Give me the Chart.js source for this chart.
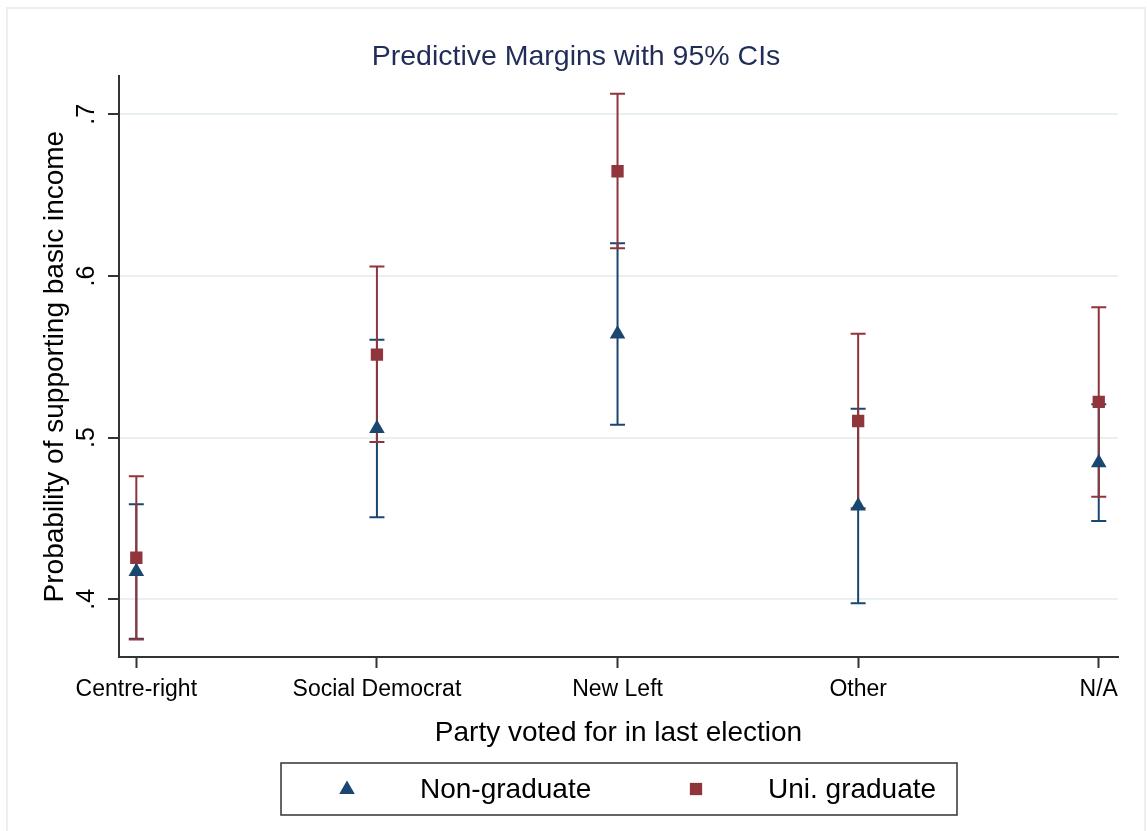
<!DOCTYPE html>
<html>
<head>
<meta charset="utf-8">
<script src="https://cdn.jsdelivr.net/npm/chart.js@4/dist/chart.umd.min.js"></script>
<style>
  html, body { margin: 0; padding: 0; background: #ffffff; }
  #wrap { width: 1147px; height: 831px; position: relative; }
</style>
</head>
<body>
<div id="wrap"><canvas id="c" width="1147" height="831"></canvas></div>
<script>
// Party categories along the x axis
const parties = ['Centre-right', 'Social Democrat', 'New Left', 'Other', 'N/A'];

// Y axis ticks and their labels
const yTicks = [0.4, 0.5, 0.6, 0.7];
const yTickLabels = ['.4', '.5', '.6', '.7'];

// Non-graduate: predictive margin and 95% CI bounds
const nonGradMargin = [0.4172, 0.5057, 0.5641, 0.4577, 0.4845];
const nonGradLow    = [0.3756, 0.4507, 0.5079, 0.3975, 0.4484];
const nonGradHigh   = [0.4588, 0.5606, 0.6203, 0.5178, 0.5206];

// University graduate: predictive margin and 95% CI bounds
const gradMargin = [0.4257, 0.5514, 0.6648, 0.5103, 0.5221];
const gradLow    = [0.3752, 0.4973, 0.6172, 0.4563, 0.4635];
const gradHigh   = [0.4761, 0.6058, 0.7127, 0.5642, 0.5807];

const NAVY = '#1a476f';
const MAROON = '#90353b';
const AXIS = '#333333';
const GRID = '#e8f0f2';

Chart.defaults.font.family = "'Liberation Sans', Arial, Helvetica, sans-serif";
Chart.defaults.font.weight = 'normal';
Chart.defaults.color = '#000000';

// Light outer frame of the graph region
const regionFrame = {
  id: 'regionFrame',
  beforeDraw(chart) {
    const ctx = chart.ctx;
    ctx.save();
    ctx.fillStyle = '#ffffff';
    ctx.fillRect(0, 0, chart.width, chart.height);
    ctx.strokeStyle = GRID;
    ctx.lineWidth = 2;
    ctx.strokeRect(7, 8, 1138, 840);
    ctx.restore();
  }
};

// Capped confidence-interval spikes, drawn beneath the markers
const ciCaps = {
  id: 'ciCaps',
  beforeDatasetsDraw(chart, args, opts) {
    const ctx = chart.ctx;
    const xs = chart.scales.x, ys = chart.scales.y;
    const half = opts.capHalfWidth;
    ctx.save();
    ctx.lineWidth = opts.lineWidth;
    ctx.lineCap = 'butt';
    chart.data.datasets.forEach(ds => {
      ctx.strokeStyle = ds.borderColor;
      ds.ciLow.forEach((lo, i) => {
        const hi = ds.ciHigh[i];
        const x = xs.getPixelForValue(i);
        const yLo = ys.getPixelForValue(lo);
        const yHi = ys.getPixelForValue(hi);
        ctx.beginPath();
        ctx.moveTo(x, yLo); ctx.lineTo(x, yHi);
        ctx.moveTo(x - half, yLo); ctx.lineTo(x + half, yLo);
        ctx.moveTo(x - half, yHi); ctx.lineTo(x + half, yHi);
        ctx.stroke();
      });
    });
    ctx.restore();
  }
};

function drawMarker(ctx, style, x, y, r) {
  ctx.beginPath();
  if (style === 'triangle') {
    ctx.moveTo(x, y - r);
    ctx.lineTo(x + Math.sin(2 * Math.PI / 3) * r, y + 0.5 * r);
    ctx.lineTo(x - Math.sin(2 * Math.PI / 3) * r, y + 0.5 * r);
    ctx.closePath();
  } else {
    const s = Math.SQRT1_2 * r;
    ctx.rect(x - s, y - s, 2 * s, 2 * s);
  }
  ctx.fill();
}

// Boxed legend below the axis title
const boxLegend = {
  id: 'boxLegend',
  afterDraw(chart, args, opts) {
    const ctx = chart.ctx;
    const b = opts.box;
    ctx.save();
    ctx.strokeStyle = AXIS;
    ctx.lineWidth = 1.5;
    ctx.strokeRect(b.x, b.y, b.w, b.h);
    ctx.font = opts.fontSize + "px 'Liberation Sans', Arial, sans-serif";
    ctx.textBaseline = 'alphabetic';
    ctx.textAlign = 'left';
    chart.data.datasets.forEach((ds, i) => {
      const it = opts.items[i];
      ctx.fillStyle = ds.backgroundColor;
      drawMarker(ctx, ds.pointStyle, it.symbolX, it.symbolY, ds.pointRadius);
      ctx.fillStyle = '#000000';
      ctx.fillText(ds.label, it.textX, opts.baseline);
    });
    ctx.restore();
  }
};

const toPoints = arr => arr.map((v, i) => ({ x: i, y: v }));

new Chart(document.getElementById('c'), {
  type: 'scatter',
  data: {
    datasets: [
      {
        label: 'Non-graduate',
        data: toPoints(nonGradMargin),
        ciLow: nonGradLow,
        ciHigh: nonGradHigh,
        pointStyle: 'triangle',
        pointRadius: 9,
        backgroundColor: NAVY,
        borderColor: NAVY,
        pointBorderWidth: 0,
        order: 1
      },
      {
        label: 'Uni. graduate',
        data: toPoints(gradMargin),
        ciLow: gradLow,
        ciHigh: gradHigh,
        pointStyle: 'rect',
        pointRadius: 8.7,
        backgroundColor: MAROON,
        borderColor: MAROON,
        pointBorderWidth: 0,
        order: 0
      }
    ]
  },
  options: {
    responsive: false,
    animation: false,
    events: [],
    layout: { padding: { top: 40, right: 29, bottom: 0, left: 34 } },
    plugins: {
      legend: { display: false },
      tooltip: { enabled: false },
      title: {
        display: true,
        text: 'Predictive Margins with 95% CIs',
        color: '#1f2d57',
        font: { size: 28.5, weight: 'normal' },
        padding: { top: 0, bottom: 2 }
      },
      ciCaps: { lineWidth: 2, capHalfWidth: 7.5 },
      boxLegend: {
        box: { x: 281, y: 763, w: 676, h: 52 },
        fontSize: 28,
        baseline: 798,
        items: [
          { symbolX: 347, symbolY: 789.5, textX: 420 },
          { symbolX: 696, symbolY: 789, textX: 768 }
        ]
      }
    },
    scales: {
      x: {
        type: 'linear',
        min: -0.072,
        max: 4.08,
        afterBuildTicks: s => { s.ticks = parties.map((_, i) => ({ value: i })); },
        afterFit: s => { s.height = 174; },
        ticks: {
          callback: v => parties[v],
          font: { size: 23 },
          color: '#000000',
          padding: 8,
          autoSkip: false,
          maxRotation: 0,
          minRotation: 0
        },
        grid: {
          drawOnChartArea: false,
          drawTicks: true,
          tickLength: 11,
          tickColor: AXIS,
          tickWidth: 2
        },
        border: { display: true, color: AXIS, width: 2 },
        title: {
          display: true,
          text: 'Party voted for in last election',
          font: { size: 28 },
          color: '#000000',
          padding: { top: 0, bottom: 81 }
        }
      },
      y: {
        type: 'linear',
        min: 0.3643,
        max: 0.7236,
        afterBuildTicks: s => { s.ticks = yTicks.map(v => ({ value: v })); },
        afterFit: s => { s.width = 85; },
        ticks: {
          callback: (v, i) => yTickLabels[i],
          minRotation: 90,
          maxRotation: 90,
          crossAlign: 'center',
          padding: 10,
          font: { size: 25 },
          color: '#000000'
        },
        grid: {
          color: GRID,
          lineWidth: 2,
          tickLength: 11,
          tickColor: AXIS,
          tickWidth: 2
        },
        border: { display: true, color: AXIS, width: 2 },
        title: {
          display: true,
          text: 'Probability of supporting basic income',
          font: { size: 28 },
          color: '#000000',
          padding: { top: 4, bottom: 0 }
        }
      }
    }
  },
  plugins: [regionFrame, ciCaps, boxLegend]
});
</script>
</body>
</html>
